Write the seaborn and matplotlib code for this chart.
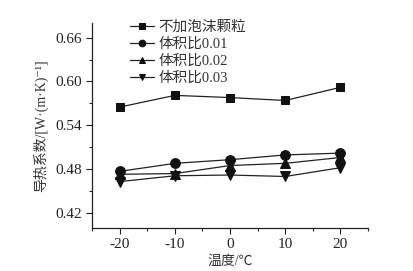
import matplotlib
matplotlib.use("Agg")
import matplotlib.pyplot as plt
import pandas as pd
import seaborn as sns
from matplotlib.ticker import MultipleLocator

temps = [-20, -10, 0, 10, 20]
series_names = ["不加泡沫颗粒", "体积比0.01", "体积比0.02", "体积比0.03"]
no_foam = [0.565, 0.581, 0.578, 0.574, 0.592]
ratio_001 = [0.477, 0.488, 0.493, 0.4995, 0.502]
ratio_002 = [0.473, 0.474, 0.485, 0.488, 0.496]
ratio_003 = [0.463, 0.471, 0.472, 0.470, 0.482]

rows = []
for name, vals in zip(series_names, [no_foam, ratio_001, ratio_002, ratio_003]):
    for t, v in zip(temps, vals):
        rows.append({"温度": t, "导热系数": v, "组": name})
df = pd.DataFrame(rows)

sns.set_style("ticks")
plt.rcParams["font.family"] = ["Liberation Serif", "Noto Sans CJK SC", "DejaVu Sans"]
plt.rcParams["axes.unicode_minus"] = False

fig = plt.figure(figsize=(4.13, 2.71), dpi=100)
ax = fig.add_axes([0.223, 0.16, 0.668, 0.755])

sns.lineplot(data=df, x="温度", y="导热系数", hue="组", style="组",
             palette=["#222222"] * 4, markers=["s", "o", "^", "v"], dashes=False,
             markersize=6, linewidth=0.9, markeredgecolor="#111111",
             markerfacecolor="#111111", ax=ax)
# circles and triangles look a little bigger than the squares
for line, ms in zip(ax.lines[:4], [5.5, 7, 7, 7]):
    line.set_markersize(ms)

ax.set_xlim(-25, 25)
ax.set_ylim(0.40, 0.68)
ax.set_xticks(temps)
ax.set_yticks([0.42, 0.48, 0.54, 0.60, 0.66])
ax.set_yticklabels(["0.42", "0.48", "0.54", "0.60", "0.66"])
ax.xaxis.set_minor_locator(MultipleLocator(5))
ax.yaxis.set_minor_locator(MultipleLocator(0.03))
ax.tick_params(which="major", direction="out", length=4, width=0.8, labelsize=11, colors="#222222")
ax.tick_params(which="minor", direction="out", length=2.5, width=0.8)
sns.despine(ax=ax)
for s in ["left", "bottom"]:
    ax.spines[s].set_color("#222222")
    ax.spines[s].set_linewidth(0.9)

ax.set_xlabel("温度/℃", fontsize=10, color="#333333", labelpad=3)
ax.set_ylabel("导热系数/[W·(m·K)⁻¹]", fontsize=10, color="#333333", labelpad=5)

leg = ax.legend(loc="upper left", bbox_to_anchor=(0.115, 1.04), frameon=False,
                fontsize=10.5, handlelength=1.65, handletextpad=0.35,
                labelspacing=0.25, borderaxespad=0, markerscale=0.8)
for t in leg.get_texts():
    t.set_color("#333333")
for h in leg.legend_handles:
    h.set_linewidth(0.9)

fig.savefig("out.png", dpi=100)
